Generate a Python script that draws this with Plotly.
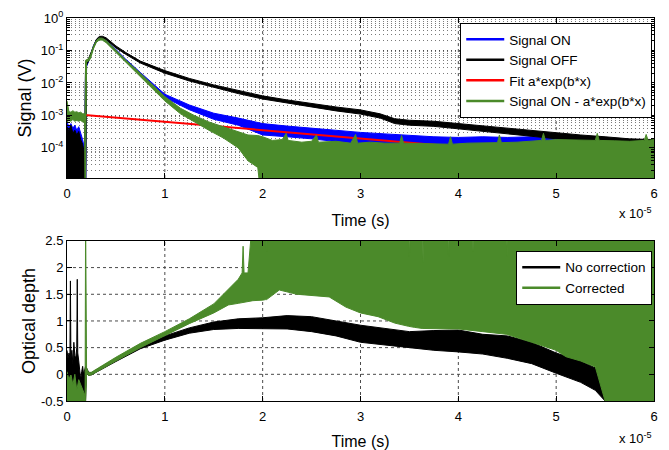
import plotly.graph_objects as go

# ---------------- data (time in units of 1e-5 s) ----------------
# Top panel: Signal OFF (black) envelope, volts
t_off = [0, 0.02, 0.04, 0.06, 0.08, 0.10, 0.12, 0.14, 0.16, 0.18, 0.19, 0.20, 0.22, 0.24, 0.27,
         0.30, 0.33, 0.36, 0.40, 0.45, 0.50, 0.60, 0.75, 1.0, 1.25, 1.5, 1.75, 2.0, 2.25, 2.5,
         2.75, 3.0, 3.2, 3.35, 3.5, 3.75, 4.0, 4.25, 4.5, 4.75, 5.0, 5.25, 5.5, 5.75, 6.0]
off_hi = [4.5e-4, 3.2e-4, 5.0e-4, 2.8e-4, 3.5e-4, 2.5e-4, 3.2e-4, 1.8e-4, 1.3e-4, 6.3e-5, 4.5e-2,
          4.5e-2, 5.6e-2, 7.9e-2, 0.15, 0.22, 0.27, 0.275, 0.245, 0.186, 0.138, 0.087, 0.047,
          0.024, 0.0138, 0.0087, 0.0058, 0.0040, 0.0030, 2.3e-3, 1.82e-3, 1.48e-3, 1.12e-3,
          7.9e-4, 7.1e-4, 6.6e-4, 5.6e-4, 5.0e-4, 4.2e-4, 3.5e-4, 3.0e-4, 2.5e-4, 2.2e-4,
          1.9e-4, 1.8e-4]
off_lo = [1e-6, 1e-6, 1e-6, 1e-6, 1e-6, 1e-6, 1e-6, 1e-6, 1e-6, 1e-6, 1e-6,
          3.5e-2, 4.5e-2, 6.3e-2, 0.126, 0.195, 0.234, 0.24, 0.214, 0.162, 0.12, 0.076, 0.041,
          0.020, 0.0115, 0.0072, 0.0047, 0.0032, 0.0024, 1.8e-3, 1.38e-3, 1.1e-3, 8.3e-4,
          5.6e-4, 5.0e-4, 4.6e-4, 3.8e-4, 3.3e-4, 2.75e-4, 2.3e-4, 1.9e-4, 1.6e-4, 1.3e-4,
          1.12e-4, 1.05e-4]

# Top panel: Signal ON (blue) envelope, volts
t_on = [0, 0.02, 0.04, 0.06, 0.08, 0.10, 0.12, 0.14, 0.16, 0.18, 0.19, 0.20, 0.22, 0.24, 0.27,
        0.30, 0.33, 0.36, 0.40, 0.45, 0.50, 0.60, 0.75, 1.0, 1.25, 1.5, 1.75, 2.0, 2.25, 2.5,
        2.75, 3.0, 3.25, 3.5, 3.75, 4.0, 4.25, 4.5, 4.75, 5.0, 5.05]
on_hi = [6.3e-4, 4.5e-4, 5.6e-4, 4.0e-4, 5.0e-4, 3.5e-4, 4.5e-4, 2.8e-4, 1.8e-4, 8.9e-5, 4.0e-2,
         4.0e-2, 5.4e-2, 7.1e-2, 0.141, 0.214, 0.251, 0.251, 0.214, 0.151, 0.102, 0.054, 0.021,
         4.5e-3, 2.1e-3, 1.17e-3, 8.3e-4, 5.6e-4, 4.7e-4, 4.0e-4, 3.5e-4, 3.0e-4, 2.7e-4,
         2.4e-4, 2.2e-4, 2.1e-4, 2.2e-4, 2.1e-4, 2.2e-4, 2.0e-4, 1.9e-4]
on_lo = [1e-6, 1e-6, 1e-6, 1e-6, 1e-6, 1e-6, 1e-6, 1e-6, 1e-6, 1e-6, 1e-6,
         3.2e-2, 4.5e-2, 6.0e-2, 0.12, 0.186, 0.219, 0.219, 0.182, 0.129, 0.087, 0.046, 0.0174,
         3.55e-3, 1.5e-3, 7.6e-4, 5.0e-4, 2.5e-4, 2.2e-4, 1.9e-4, 1.6e-4, 1.3e-4, 1.2e-4,
         1.12e-4, 1.0e-4, 8.9e-5, 9.5e-5, 8.9e-5, 1.0e-4, 8.9e-5, 1.0e-4]

# Top panel: exponential fit (red), volts
t_fit = [0, 4.5]
fit_v = [1.15e-3, 8.0e-5]

# Top panel: Signal ON - fit (green) envelope, volts
t_sub = [0, 0.02, 0.04, 0.06, 0.08, 0.10, 0.12, 0.14, 0.16, 0.18, 0.185, 0.19, 0.20, 0.22, 0.24,
         0.27, 0.30, 0.33, 0.36, 0.40, 0.45, 0.50, 0.60, 0.75, 1.0, 1.16, 1.3, 1.45, 1.6, 1.75,
         1.85, 1.95, 2.0, 2.1, 2.2, 2.24, 2.26, 2.4, 2.5, 2.55, 2.57, 2.75, 2.9, 2.95, 2.97,
         3.1, 3.25, 3.4, 3.42, 3.44, 3.6, 3.75, 3.9, 3.92, 3.94, 4.1, 4.25, 4.4, 4.42, 4.44,
         4.6, 4.75, 4.85, 4.87, 4.89, 5.0, 5.25, 5.4, 5.42, 5.44, 5.6, 5.75, 5.9, 5.92, 5.94,
         6.0]
sub_hi = [2.8e-3, 1.3e-3, 1.26e-3, 1.4e-3, 1.26e-3, 1.3e-3, 1.2e-3, 1.26e-3, 1.12e-3, 1.12e-3,
          1.12e-3, 5.0e-2, 5.2e-2, 5.6e-2, 7.1e-2, 0.135, 0.204, 0.24, 0.24, 0.204, 0.145, 0.10,
          0.051, 0.020, 3.8e-3, 1.66e-3, 1.0e-3, 6.3e-4, 4.5e-4, 3.2e-4, 2.5e-4, 2.4e-4,
          2.2e-4, 1.7e-4, 1.8e-4, 2.8e-4, 1.7e-4, 1.5e-4, 1.6e-4, 2.5e-4, 1.5e-4, 1.6e-4,
          1.4e-4, 2.6e-4, 1.4e-4, 1.5e-4, 1.4e-4, 1.4e-4, 2.4e-4, 1.4e-4, 1.35e-4, 1.3e-4,
          1.3e-4, 2.2e-4, 1.3e-4, 1.4e-4, 1.4e-4, 1.45e-4, 2.5e-4, 1.45e-4, 1.5e-4, 1.6e-4,
          1.7e-4, 2.8e-4, 1.7e-4, 1.8e-4, 1.7e-4, 1.7e-4, 2.8e-4, 1.7e-4, 1.65e-4, 1.6e-4,
          1.7e-4, 2.6e-4, 1.7e-4, 1.8e-4]
sub_lo = [6.3e-4, 7.0e-4, 6.6e-4, 7.5e-4, 6.6e-4, 7.0e-4, 6.6e-4, 7.0e-4, 6.3e-4, 6.3e-4,
          1e-6, 1e-6, 4.5e-2, 4.7e-2, 5.6e-2, 0.112, 0.178, 0.209, 0.209, 0.174, 0.123, 0.083,
          0.044, 0.0158, 2.8e-3, 1.12e-3, 6.3e-4, 3.5e-4, 2.0e-4, 1.0e-4, 4.0e-5, 2.5e-5,
          1e-6, 1e-6, 1e-6, 1e-6, 1e-6, 1e-6, 1e-6, 1e-6, 1e-6, 1e-6, 1e-6, 1e-6, 1e-6,
          1e-6, 1e-6, 1e-6, 1e-6, 1e-6, 1e-6, 1e-6, 1e-6, 1e-6, 1e-6, 1e-6, 1e-6, 1e-6,
          1e-6, 1e-6, 1e-6, 1e-6, 1e-6, 1e-6, 1e-6, 1e-6, 1e-6, 1e-6, 1e-6, 1e-6, 1e-6,
          1e-6, 1e-6, 1e-6, 1e-6, 1e-6]

# Bottom panel: optical depth, no correction (black) envelope
t_nc = [0, 0.01, 0.02, 0.03, 0.035, 0.04, 0.05, 0.06, 0.07, 0.08, 0.09, 0.1, 0.105, 0.11, 0.12,
        0.13, 0.14, 0.15, 0.16, 0.17, 0.18, 0.19, 0.2, 0.22, 0.25, 0.5, 0.75, 1.0, 1.25, 1.5,
        1.75, 2.0, 2.25, 2.5, 2.75, 3.0, 3.25, 3.5, 3.75, 4.0, 4.25, 4.5, 4.75, 5.0, 5.25, 5.4,
        5.5, 5.55]
nc_hi = [0.45, 0.3, 0.4, 0.35, 1.75, 0.3, 0.45, 0.2, 0.6, 0.35, 0.3, 0.5, 1.78, 0.4, 0.25,
         0.1, -0.1, 0.05, 0.15, 0.0, 0.1, 0.15, 0.12, 0.04, 0.03, 0.3, 0.54, 0.72, 0.87, 0.98,
         1.04, 1.06, 1.1, 1.08, 1.0, 0.92, 0.86, 0.8, 0.82, 0.83, 0.75, 0.72, 0.6, 0.4, 0.25,
         0.12, -0.05, -0.3]
nc_lo = [-0.5, -0.5, -0.5, -0.5, -0.5, -0.5, -0.5, -0.5, -0.5, -0.5, -0.5, -0.5, -0.5, -0.5,
         -0.5, -0.5, -0.5, -0.5, -0.5, -0.5, -0.5, -0.5, 0.05, -0.02, -0.01, 0.24, 0.48, 0.64,
         0.77, 0.84, 0.86, 0.85, 0.85, 0.8, 0.72, 0.6, 0.55, 0.5, 0.45, 0.42, 0.38, 0.3, 0.2,
         0.02, -0.15, -0.3, -0.5, -0.5]

# Bottom panel: optical depth, corrected (green) envelope
t_cor = [0, 0.02, 0.04, 0.06, 0.08, 0.1, 0.12, 0.14, 0.16, 0.18, 0.185, 0.19, 0.2, 0.22, 0.25,
         0.5, 0.75, 1.0, 1.25, 1.5, 1.65, 1.75, 1.79, 1.8, 1.81, 1.85, 1.9, 2.0, 2.03, 2.04,
         2.05, 2.17, 2.35, 2.5, 2.68, 2.85, 3.0, 3.18, 3.35, 3.49, 3.5, 3.51, 3.55, 3.63,
         3.64, 3.65, 3.75, 3.89, 3.9, 3.91, 4.0, 4.14, 4.15, 4.16, 4.25, 4.49, 4.5, 4.51,
         4.75, 5.0, 5.1, 5.25, 5.4, 5.5, 5.6, 5.75, 6.0]
cor_hi = [0.05, -0.1, 0.0, -0.2, 0.0, -0.3, -0.1, -0.2, -0.3, -0.4, -0.4, 3.0, 0.12, 0.03,
          0.04, 0.32, 0.58, 0.8, 1.04, 1.32, 1.6, 1.78, 1.9, 2.4, 1.9, 1.9, 3.0, 3.0, 3.0, 2.3,
          3.0, 3.0, 3.0, 3.0, 3.0, 3.0, 3.0, 3.0, 3.0, 3.0, 2.2, 3.0, 3.0, 3.0, 2.1, 3.0, 3.0,
          3.0, 2.2, 3.0, 3.0, 3.0, 2.3, 3.0, 3.0, 3.0, 2.2, 3.0, 3.0, 3.0, 3.0, 3.0, 3.0, 3.0,
          3.0, 3.0, 3.0]
cor_lo = [-0.5, -0.5, -0.5, -0.5, -0.5, -0.5, -0.5, -0.5, -0.5, -0.5, -0.5, -0.5, 0.05, -0.02,
          -0.01, 0.25, 0.5, 0.72, 0.95, 1.15, 1.3, 1.33, 1.34, 1.35, 1.35, 1.36, 1.38, 1.39,
          1.4, 1.4, 1.4, 1.58, 1.5, 1.47, 1.45, 1.26, 1.15, 1.08, 0.96, 0.9, 0.9, 0.9, 0.88,
          0.86, 0.86, 0.86, 0.85, 0.85, 0.85, 0.85, 0.85, 0.82, 0.82, 0.82, 0.8, 0.75, 0.75,
          0.75, 0.6, 0.45, 0.33, 0.25, 0.14, -0.5, -0.5, -0.5, -0.5]

top_tickvals = [1e-4, 1e-3, 1e-2, 1e-1, 1]
top_ticktext = ["10<sup>-4</sup>", "10<sup>-3</sup>", "10<sup>-2</sup>", "10<sup>-1</sup>", "10<sup>0</sup>"]
minor_vals = [k * 10.0 ** d for d in range(-5, 0) for k in range(2, 10)]
x_ticks = [0, 1, 2, 3, 4, 5, 6]
od_ticks = [-0.5, 0, 0.5, 1, 1.5, 2, 2.5]
od_ticktext = ["-0.5", "0", "0.5", "1", "1.5", "2", "2.5"]

BLUE = "#0000ff"
BLACK = "#000000"
RED = "#ff0000"
GREEN = "#4b8a2a"
FONT = "Liberation Sans, Arial, Helvetica, sans-serif"
GRID = "#4a4a4a"
DASH = "1px,3px"


def band(t, lo, hi, color, xa, ya):
    return go.Scatter(x=list(t) + list(t)[::-1], y=list(hi) + list(lo)[::-1],
                      fill="toself", fillcolor=color, mode="lines",
                      line=dict(color=color, width=1), xaxis=xa, yaxis=ya,
                      showlegend=False, hoverinfo="skip")


def legend_line(name, color, legend, xa, ya):
    return go.Scatter(x=[None], y=[None], mode="lines", name=name,
                      line=dict(color=color, width=2.5), legend=legend,
                      xaxis=xa, yaxis=ya)


fig = go.Figure()
fig.add_trace(band(t_on, on_lo, on_hi, BLUE, "x", "y"))
fig.add_trace(band(t_off, off_lo, off_hi, BLACK, "x", "y"))
fig.add_trace(go.Scatter(x=t_fit, y=fit_v, mode="lines", line=dict(color=RED, width=2),
                         xaxis="x", yaxis="y", showlegend=False))
fig.add_trace(band(t_sub, sub_lo, sub_hi, GREEN, "x", "y"))

fig.add_trace(band(t_nc, nc_lo, nc_hi, BLACK, "x2", "y2"))
fig.add_trace(band(t_cor, cor_lo, cor_hi, GREEN, "x2", "y2"))

fig.add_trace(legend_line("Signal ON", BLUE, "legend", "x", "y"))
fig.add_trace(legend_line("Signal OFF", BLACK, "legend", "x", "y"))
fig.add_trace(legend_line("Fit a*exp(b*x)", RED, "legend", "x", "y"))
fig.add_trace(legend_line("Signal ON - a*exp(b*x)", GREEN, "legend", "x", "y"))
fig.add_trace(legend_line("No correction", BLACK, "legend2", "x2", "y2"))
fig.add_trace(legend_line("Corrected", GREEN, "legend2", "x2", "y2"))

# dotted grid lines at the tick positions (drawn as layout shapes beneath the traces)
grid_line = dict(color=GRID, width=1, dash="dot")
for xv in x_ticks[1:-1]:
    fig.add_shape(type="line", xref="x", yref="y domain", x0=xv, x1=xv, y0=0, y1=1,
                  line=grid_line, layer="below")
    fig.add_shape(type="line", xref="x2", yref="y2 domain", x0=xv, x1=xv, y0=0, y1=1,
                  line=grid_line, layer="below")
for yv in od_ticks[1:-1]:
    fig.add_shape(type="line", xref="x2 domain", yref="y2", x0=0, x1=1, y0=yv, y1=yv,
                  line=grid_line, layer="below")

axis_common = dict(showline=True, linecolor="black", linewidth=1, mirror="ticks",
                   ticks="inside", ticklen=5, tickcolor="black", zeroline=False,
                   layer="above traces",
                   tickfont=dict(family=FONT, size=13, color="black"))
no_minor = dict(ticks="", showgrid=False)

fig.update_layout(
    width=669, height=450,
    margin=dict(l=67, r=15, t=18, b=49, autoexpand=False),
    paper_bgcolor="white", plot_bgcolor="white",
    font=dict(family=FONT, color="black"),
    xaxis=dict(domain=[0, 1], anchor="y", range=[0, 6], tickvals=x_ticks, automargin=False,
               ticklabelstandoff=3, minor=no_minor, showgrid=False,
               title=dict(text="Time (s)", font=dict(size=16)), **axis_common),
    yaxis=dict(domain=[0.582, 1], anchor="x", type="log", range=[-4.93, 0],
               tickvals=top_tickvals, ticktext=top_ticktext, automargin=True,
               showgrid=True, gridcolor=GRID, griddash=DASH, gridwidth=1,
               minor=dict(tickvals=minor_vals, ticks="inside", ticklen=3, tickcolor="black",
                          showgrid=True, gridcolor="#7a7a7a", griddash=DASH, gridwidth=1),
               title=dict(text="Signal (V)", font=dict(size=18), standoff=4), **axis_common),
    xaxis2=dict(domain=[0, 1], anchor="y2", range=[0, 6], tickvals=x_ticks, automargin=False,
                ticklabelstandoff=3, minor=no_minor, showgrid=False,
                title=dict(text="Time (s)", font=dict(size=16)), **axis_common),
    yaxis2=dict(domain=[0, 0.418], anchor="x2", range=[-0.5, 2.5],
                tickvals=od_ticks, ticktext=od_ticktext, automargin=True, minor=no_minor,
                showgrid=False,
                title=dict(text="Optical depth", font=dict(size=18), standoff=0), **axis_common),
    legend=dict(x=0.997, y=0.987, xanchor="right", yanchor="top", bgcolor="white",
                bordercolor="black", borderwidth=1, font=dict(family=FONT, size=13.5),
                tracegroupgap=0, itemwidth=38),
    legend2=dict(x=0.997, y=0.392, xanchor="right", yanchor="top", bgcolor="white",
                 bordercolor="black", borderwidth=1, font=dict(family=FONT, size=13.5),
                 tracegroupgap=0, itemwidth=38),
    annotations=[
        dict(text="x 10<sup>-5</sup>", xref="paper", yref="paper", x=1.0, y=0.49,
             xanchor="right", yanchor="middle", showarrow=False, font=dict(size=13)),
        dict(text="x 10<sup>-5</sup>", xref="paper", yref="paper", x=1.0, y=-0.097,
             xanchor="right", yanchor="middle", showarrow=False, font=dict(size=13)),
    ],
)

fig.write_html("out.html", config={"displayModeBar": False},
               post_script="document.body.style.margin='0px';document.body.style.padding='0px';")
